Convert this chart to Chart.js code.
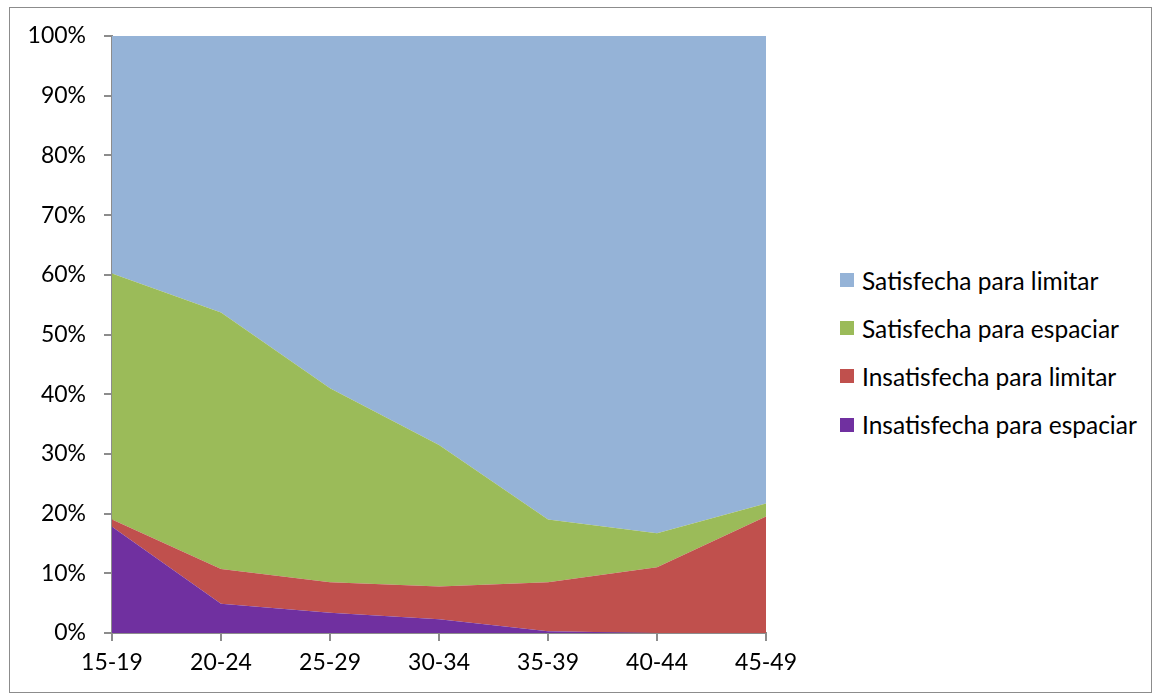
<!DOCTYPE html>
<html>
<head>
<meta charset="utf-8">
<script src="https://cdn.jsdelivr.net/npm/chart.js@4/dist/chart.umd.min.js"></script>
<style>
  body { margin: 0; background: #fff; font-family: Lato, "Noto Sans", sans-serif; }
  #frame { position: absolute; left: 9px; top: 7px; width: 1141px; height: 684px; border: 1px solid #8c8c8c; }
  #wrap { position: absolute; left: 0; top: 0; width: 805px; height: 694px; }
  #legend { position: absolute; left: 840px; top: 256px; }
  .item { height: 48.2px; display: flex; align-items: center; font-size: 24.5px; color: #000; white-space: nowrap; }
  .item span.box { width: 14px; height: 14px; margin-right: 8px; flex: none; }
</style>
</head>
<body>
<div id="frame"></div>
<div id="wrap"><canvas id="chart"></canvas></div>
<div id="legend"></div>
<script>
  // age groups on the x axis
  const ageGroups = ['15-19', '20-24', '25-29', '30-34', '35-39', '40-44', '45-49'];

  // shares per age group (%), stacked to 100
  const insatEspaciar = [17.8, 4.9, 3.4, 2.3, 0.3, 0, 0];
  const insatLimitar = [1.2, 5.8, 5.1, 5.5, 8.2, 11.0, 19.5];
  const satEspaciar = [41.2, 43.0, 32.5, 23.7, 10.5, 5.7, 2.2];
  const satLimitar = [39.8, 46.3, 59.0, 68.5, 81.0, 83.3, 78.3];

  const yTicks = [0, 10, 20, 30, 40, 50, 60, 70, 80, 90, 100];

  const series = [
    { label: 'Insatisfecha para espaciar', data: insatEspaciar, color: '#7030A0' },
    { label: 'Insatisfecha para limitar', data: insatLimitar, color: '#C0504D' },
    { label: 'Satisfecha para espaciar', data: satEspaciar, color: '#9BBB59' },
    { label: 'Satisfecha para limitar', data: satLimitar, color: '#95B3D7' }
  ];

  const axisGrey = '#8c8c8c';
  const tickFont = { family: 'Lato, "Noto Sans", sans-serif', size: 23 };

  new Chart(document.getElementById('chart'), {
    type: 'line',
    data: {
      labels: ageGroups,
      datasets: series.map((s, i) => ({
        label: s.label,
        data: s.data,
        backgroundColor: s.color,
        borderColor: s.color,
        borderWidth: 0,
        pointRadius: 0,
        tension: 0,
        fill: i === 0 ? 'origin' : '-1'
      }))
    },
    options: {
      responsive: true,
      maintainAspectRatio: false,
      animation: false,
      layout: { padding: { top: 36, right: 29, left: 0, bottom: 0 } },
      plugins: {
        legend: { display: false },
        tooltip: { enabled: false }
      },
      scales: {
        x: {
          offset: false,
          grid: { drawOnChartArea: false, drawTicks: true, tickLength: 8, color: axisGrey, lineWidth: 2 },
          border: { color: axisGrey, width: 2 },
          ticks: { color: '#000', font: tickFont, padding: 8, maxRotation: 0 },
          afterFit: s => { s.height = 61; }
        },
        y: {
          stacked: true,
          min: 0,
          max: 100,
          grid: { drawOnChartArea: false, drawTicks: true, tickLength: 8, color: axisGrey, lineWidth: 2 },
          border: { color: axisGrey, width: 2 },
          afterBuildTicks: s => { s.ticks = yTicks.map(v => ({ value: v })); },
          ticks: { color: '#000', font: tickFont, padding: 18, callback: v => v + '%' },
          afterFit: s => { s.width = 112; }
        }
      }
    }
  });

  // legend, top entry is the top layer
  const legend = document.getElementById('legend');
  series.slice().reverse().forEach(s => {
    const row = document.createElement('div');
    row.className = 'item';
    row.innerHTML = '<span class="box" style="background:' + s.color + '"></span>' + s.label;
    legend.appendChild(row);
  });
</script>
</body>
</html>
